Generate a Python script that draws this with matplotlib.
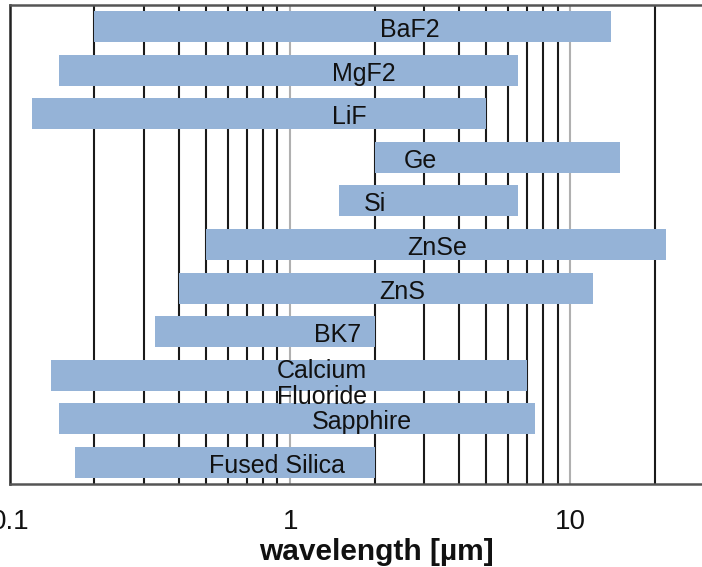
import numpy as np
import matplotlib
matplotlib.use("Agg")
import matplotlib.pyplot as plt
from matplotlib.ticker import FixedLocator, NullFormatter

# ---- data (top to bottom) ----
materials = ["BaF2", "MgF2", "LiF", "Ge", "Si", "ZnSe", "ZnS", "BK7",
             "Calcium\nFluoride", "Sapphire", "Fused Silica"]
range_min = [0.2, 0.15, 0.12, 2.0, 1.5, 0.5, 0.4, 0.33, 0.14, 0.15, 0.17]
range_max = [14, 6.5, 5.0, 15, 6.5, 22, 12, 2.0, 7.0, 7.5, 2.0]
label_pos = [2.68, 1.83, 1.62, 2.91, 2.0, 3.35, 2.51, 1.476, 1.30, 1.81, 0.90]
tick_values = [0.1, 1, 10]
tick_labels = ["0.1", "1", "10"]
minor_values = [0.2, 0.3, 0.4, 0.5, 0.6, 0.7, 0.8, 0.9,
                2, 3, 4, 5, 6, 7, 8, 9, 20]

plt.rcParams['font.family'] = ['Liberation Sans', 'DejaVu Sans']

W, H = 702, 567
fig = plt.figure(figsize=(W / 100, H / 100), dpi=100)
left_px, right_px, top_px, bot_px = 10, 704, 5, 484
ax = fig.add_axes([left_px / W, (H - bot_px) / H,
                   (right_px - left_px) / W, (bot_px - top_px) / H])

y = np.arange(len(materials))
widths = np.array(range_max) - np.array(range_min)
ax.barh(y, widths, left=range_min, height=0.71, color="#95B3D7",
        edgecolor="none", zorder=2)

for yi, name, xp in zip(y, materials, label_pos):
    dy = 0.2 if "\n" in name else 0.08
    ax.text(xp, yi + dy, name, ha="center", va="center", fontsize=18,
            color="#111111", linespacing=1.1, zorder=3)

ax.set_xscale("log")
ax.set_xlim(0.1, 30)
ax.set_ylim(len(materials) - 0.5, -0.5)

ax.xaxis.set_major_locator(FixedLocator(tick_values))
ax.set_xticklabels(tick_labels)
ax.xaxis.set_minor_locator(FixedLocator(minor_values))
ax.xaxis.set_minor_formatter(NullFormatter())
ax.tick_params(axis="x", which="both", length=0, labelsize=20, pad=18,
               labelcolor="#111111")
ax.set_yticks([])

ax.set_axisbelow(True)
ax.grid(which="minor", axis="x", color="#1a1a1a", lw=1.5, zorder=0)
ax.grid(which="major", axis="x", color="#b0b0b0", lw=1.5, zorder=0)

ax.spines["left"].set_color("#222222")
ax.spines["left"].set_linewidth(1.8)
ax.spines["top"].set_color("#555555")
ax.spines["top"].set_linewidth(1.8)
ax.spines["bottom"].set_color("#555555")
ax.spines["bottom"].set_linewidth(1.8)
ax.spines["right"].set_visible(False)

ax.set_xlabel("wavelength [µm]", fontsize=21.5, fontweight="bold",
              color="#111111")
ax.xaxis.set_label_coords((376 - left_px) / (right_px - left_px),
                          (bot_px - 538) / (bot_px - top_px))

fig.savefig("out.png", dpi=100)
